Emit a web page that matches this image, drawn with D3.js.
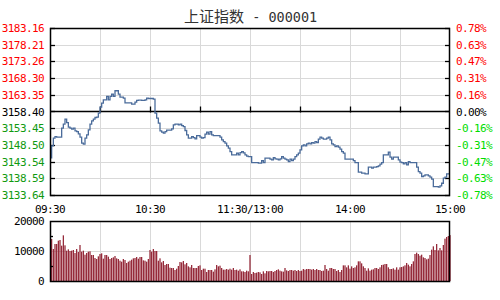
<!DOCTYPE html>
<html><head><meta charset="utf-8">
<script src="https://cdn.jsdelivr.net/npm/d3@7"></script>
<style>body{margin:0;background:#fff}svg{display:block}</style>
</head><body><svg id="c" width="500" height="300"></svg>
<script>
const titleName = "上证指数";
const titleCode = " - 000001";
const prevClose = 3158.40;
const priceTicks = ["3183.16","3178.21","3173.26","3168.30","3163.35","3158.40","3153.45","3148.50","3143.54","3138.59","3133.64"];
const pctTicks = ["0.78%","0.63%","0.47%","0.31%","0.16%","0.00%","-0.16%","-0.31%","-0.47%","-0.63%","-0.78%"];
const timeLabels = ["09:30","10:30","11:30/13:00","14:00","15:00"];
const timeLabelMinutes = [0,60,120,180,240];
const gridMinutes = [30,60,90,120,150,180,210];
const volumeTicks = [20000,10000,0];
const volumeMinorTicks = [15000,5000];

// one value per trading minute, 09:30 .. 11:30/13:00 .. 15:00 (241 points)
const price = [
3144.65,3148.21,3150.50,3150.97,3150.80,3150.80,3150.80,3153.47,3154.66,3156.14,
3155.13,3153.77,3153.47,3153.17,3153.47,3152.67,3152.46,3151.78,3150.80,3149.01,
3148.72,3150.50,3151.48,3152.96,3154.66,3155.64,3156.14,3156.62,3156.74,3157.92,
3159.71,3160.89,3161.87,3161.87,3162.86,3161.87,3162.86,3163.57,3162.86,3164.55,
3164.55,3163.57,3162.68,3162.68,3162.38,3160.98,3160.98,3160.98,3160.98,3160.60,
3160.60,3161.19,3161.67,3161.79,3161.79,3161.67,3161.67,3161.87,3162.38,3162.26,
3162.26,3162.26,3162.08,3157.92,3156.44,3154.95,3152.67,3152.28,3151.98,3152.46,
3152.88,3152.88,3152.88,3153.26,3154.45,3154.66,3154.66,3154.45,3154.66,3154.24,
3153.94,3152.76,3151.48,3150.50,3150.50,3150.97,3150.68,3150.29,3151.27,3151.27,
3150.80,3150.50,3150.68,3151.69,3152.28,3151.69,3152.46,3151.48,3151.27,3151.27,
3151.27,3151.27,3150.80,3149.99,3149.49,3149.01,3148.21,3147.53,3146.52,3145.54,
3145.54,3145.54,3146.04,3145.54,3146.22,3146.52,3146.13,3145.54,3145.15,3145.03,
3145.03,3143.25,3143.25,3143.25,3143.25,3143.07,3143.07,3143.85,3143.25,3144.56,
3144.56,3144.56,3144.26,3144.05,3144.74,3144.35,3144.26,3144.05,3144.35,3145.03,
3144.56,3144.26,3144.05,3143.55,3144.26,3143.85,3144.26,3145.03,3145.54,3146.04,
3147.02,3148.21,3148.51,3148.21,3148.81,3149.01,3148.81,3149.19,3149.01,3149.49,
3149.19,3150.20,3150.80,3150.50,3150.20,3150.20,3150.50,3150.80,3149.99,3148.81,
3148.51,3148.00,3148.21,3147.83,3147.23,3146.52,3146.04,3144.26,3144.26,3144.26,
3144.26,3144.26,3143.85,3143.25,3143.25,3140.40,3140.40,3140.10,3140.10,3139.90,
3139.90,3141.89,3141.89,3141.59,3141.89,3141.89,3142.06,3142.27,3142.78,3143.25,
3145.54,3145.54,3145.54,3146.34,3144.86,3144.26,3144.86,3144.86,3144.86,3144.05,
3143.37,3143.25,3142.87,3143.25,3142.57,3143.55,3143.25,3143.25,3143.25,3143.25,
3141.89,3140.58,3140.10,3139.09,3139.30,3139.60,3139.60,3139.30,3138.92,3138.32,
3136.12,3136.12,3136.12,3135.95,3136.33,3137.13,3138.62,3138.92,3139.90,3139.90,3139.90
];

// volume per minute, minutes 1 .. 240
const volume = [
14000,10667,12333,12333,13444,13667,11778,15222,11889,10111,
10556,10000,10111,10333,9333,10667,9667,12000,9778,10111,
8778,9333,9778,9889,8667,8667,7667,7333,8222,9000,
9222,7444,8667,8667,8111,7333,7667,7889,8333,7556,
7333,6778,6444,7333,7000,6000,6444,6778,7111,7556,
7667,8000,7444,8000,8000,6889,6778,6444,7333,10333,
9778,10667,10000,10000,6778,7556,6222,6667,5333,5667,
5667,4444,4333,4333,3667,4111,5000,6333,6222,6667,
5556,6000,4889,4556,5333,4333,4333,4333,5000,5222,
3667,4111,4111,3000,3667,3667,3667,3111,3889,5333,
4889,5111,4333,3778,3778,4000,3778,4111,3778,4333,
3667,3778,3444,3889,3222,3222,3000,3444,3222,8667,
2333,3000,2667,2778,3000,2889,2333,3222,2556,3333,
3222,3333,3333,3000,3333,3667,3889,3444,3222,3111,
4333,3556,3333,3667,3667,3444,3667,3333,3667,3333,
3444,4000,3778,4000,4000,4000,3778,4000,3667,4000,
3667,3667,3333,3444,5333,4000,3444,4333,4333,4000,
4000,3333,3667,3000,3667,5222,5222,4556,5222,4111,
4889,4333,4556,5222,6556,6556,5889,4889,4333,3444,
4222,3444,3778,3889,4333,4333,4000,4556,5333,5444,
5667,5667,4556,4000,4000,4222,3778,4556,3778,4556,
4667,4889,5222,6000,5444,4889,5667,6556,9000,9444,
9000,8444,8778,7889,7667,7222,7444,8667,10444,11556,
10333,12333,10222,11000,10222,12000,14111,14667,15000,15300
];

const svg = d3.select("#c");
const L = 50, R = 450, T = 28, B = 195, VT = 221, VB = 281;
const mono = "'DejaVu Sans Mono', monospace";
const gridColor = "#d9d9d9";

const x = d3.scaleLinear().domain([0, 240]).range([L, R]);
const y = d3.scaleLinear().domain([+priceTicks[priceTicks.length - 1], +priceTicks[0]]).range([B, T]);
const yv = d3.scaleLinear().domain([0, 20000]).range([VB, VT]);
const crisp = v => Math.round(v) + 0.5;

// title
const tt = svg.append("text").attr("x", 184).attr("y", 22).attr("fill", "#333")
  .attr("xml:space", "preserve").style("white-space", "pre");
tt.append("tspan").attr("font-family", "'Noto Sans CJK SC', sans-serif").attr("font-size", 15).text(titleName);
tt.append("tspan").attr("font-family", mono).attr("font-size", 13.5).text(titleCode);

// ---------- price panel ----------
const g = svg.append("g");
g.selectAll("line.hg").data(priceTicks.slice(1, -1).filter(t => +t !== prevClose)).join("line")
  .attr("x1", L).attr("x2", R).attr("y1", d => crisp(y(+d))).attr("y2", d => crisp(y(+d)))
  .attr("stroke", gridColor).attr("stroke-width", 1);
g.selectAll("line.vg").data(gridMinutes).join("line")
  .attr("x1", d => crisp(x(d))).attr("x2", d => crisp(x(d))).attr("y1", T).attr("y2", B)
  .attr("stroke", gridColor).attr("stroke-width", 1);

g.append("line").attr("x1", L).attr("x2", R).attr("y1", crisp(y(prevClose))).attr("y2", crisp(y(prevClose)))
  .attr("stroke", "#000").attr("stroke-width", 1.3);
g.selectAll("line.zt").data(gridMinutes).join("line")
  .attr("x1", d => crisp(x(d))).attr("x2", d => crisp(x(d)))
  .attr("y1", y(prevClose) - 5).attr("y2", y(prevClose) + 1)
  .attr("stroke", "#000").attr("stroke-width", 1.3);

g.selectAll("line.lt").data(priceTicks).join("line")
  .attr("x1", L).attr("x2", L + 5).attr("y1", d => crisp(y(+d))).attr("y2", d => crisp(y(+d)))
  .attr("stroke", "#000").attr("stroke-width", 1.3);
g.selectAll("line.rt").data(priceTicks).join("line")
  .attr("x1", R - 5).attr("x2", R).attr("y1", d => crisp(y(+d))).attr("y2", d => crisp(y(+d)))
  .attr("stroke", "#000").attr("stroke-width", 1.3);

const line = d3.line().x((d, i) => x(i)).y(d => y(d)).curve(d3.curveStepAfter);
g.append("path").datum(price).attr("d", line).attr("fill", "none")
  .attr("stroke", "#4b6c9b").attr("stroke-width", 1.3);

g.append("rect").attr("x", L + 0.5).attr("y", T + 0.5).attr("width", R - L - 1).attr("height", B - T)
  .attr("fill", "none").attr("stroke", "#000").attr("stroke-width", 1.5);

svg.selectAll("text.pl").data(priceTicks).join("text")
  .attr("x", 44).attr("y", d => y(+d) + 4).attr("text-anchor", "end")
  .attr("font-family", mono).attr("font-size", 11).attr("letter-spacing", "-0.6")
  .attr("fill", d => +d > prevClose ? "#ff0000" : (+d < prevClose ? "#109a10" : "#000"))
  .text(d => d);
svg.selectAll("text.pr").data(pctTicks).join("text")
  .attr("x", 456).attr("y", (d, i) => y(+priceTicks[i]) + 4).attr("text-anchor", "start")
  .attr("font-family", mono).attr("font-size", 11).attr("letter-spacing", "-0.6")
  .attr("fill", (d, i) => i < 5 ? "#ff0000" : (i > 5 ? "#00dd00" : "#000"))
  .text(d => d);

svg.selectAll("text.tl").data(timeLabels).join("text")
  .attr("x", (d, i) => x(timeLabelMinutes[i])).attr("y", 212.5).attr("text-anchor", "middle")
  .attr("font-family", mono).attr("font-size", 11).attr("letter-spacing", "-0.6")
  .attr("fill", "#000").text(d => d);

// ---------- volume panel ----------
const v = svg.append("g");
v.append("line").attr("x1", L).attr("x2", R).attr("y1", crisp(yv(10000))).attr("y2", crisp(yv(10000)))
  .attr("stroke", gridColor).attr("stroke-width", 1);
v.selectAll("line.vg").data(gridMinutes).join("line")
  .attr("x1", d => crisp(x(d))).attr("x2", d => crisp(x(d))).attr("y1", VT).attr("y2", VB)
  .attr("stroke", gridColor).attr("stroke-width", 1);

v.selectAll("rect.bar").data(volume).join("rect")
  .attr("x", (d, i) => x(i + 1) - 0.6).attr("width", 1.2)
  .attr("y", d => yv(d)).attr("height", d => VB - yv(d))
  .attr("fill", "#8f1d2e");

v.selectAll("line.vt").data(volumeMinorTicks).join("line")
  .attr("x1", L).attr("x2", L + 3).attr("y1", d => crisp(yv(d))).attr("y2", d => crisp(yv(d)))
  .attr("stroke", "#000").attr("stroke-width", 1.3);

v.append("rect").attr("x", L + 0.5).attr("y", VT + 0.5).attr("width", R - L - 1).attr("height", VB - VT)
  .attr("fill", "none").attr("stroke", "#000").attr("stroke-width", 1.5);

svg.selectAll("text.vl").data(volumeTicks).join("text")
  .attr("x", 44).attr("y", d => yv(d) + 4).attr("text-anchor", "end")
  .attr("font-family", mono).attr("font-size", 11).attr("letter-spacing", "-0.6")
  .attr("fill", "#000").text(d => d);
</script></body></html>
